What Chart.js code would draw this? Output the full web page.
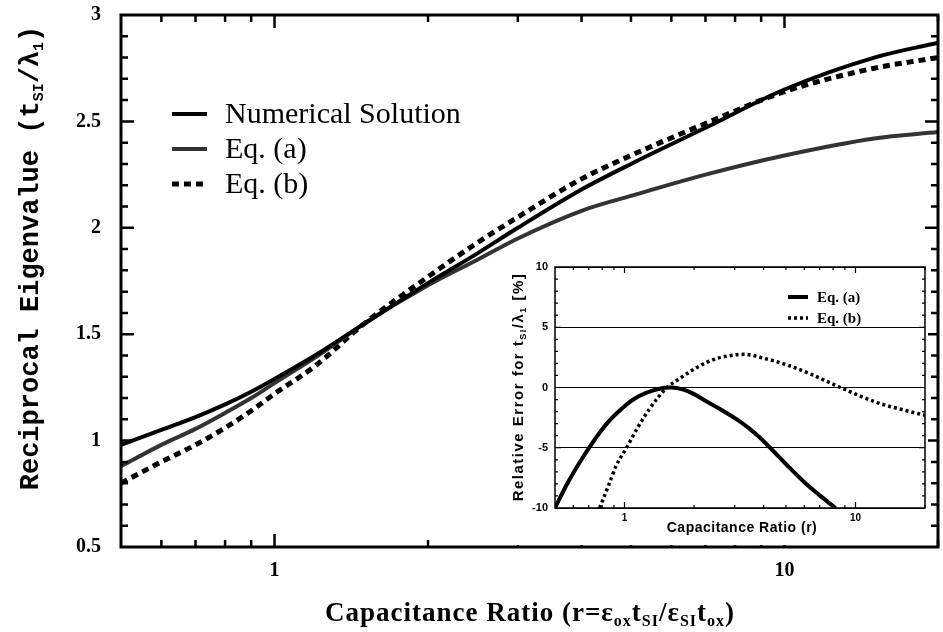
<!DOCTYPE html>
<html>
<head>
<meta charset="utf-8">
<script src="https://cdn.jsdelivr.net/npm/chart.js@4.4.1/dist/chart.umd.min.js"></script>
<style>
  html, body { margin: 0; padding: 0; background: #fff; }
  #wrap { position: relative; width: 943px; height: 632px; }
  #main { position: absolute; left: 0; top: 0; }
  #inset { position: absolute; left: 503px; top: 258px; background: #fff; }
</style>
</head>
<body>
<div id="wrap">
  <canvas id="main" width="943" height="632"></canvas>
  <canvas id="inset" width="425" height="287"></canvas>
</div>
<script>
// --- main plot data ---
const ratio     = [0.5, 0.6, 0.7, 0.8, 0.9, 1, 1.2, 1.5, 2, 2.5, 3, 4, 5, 7, 10, 15, 20];
const numerical = [0.98, 1.05, 1.11, 1.17, 1.23, 1.29, 1.40, 1.55, 1.74, 1.88, 2.00, 2.18, 2.30, 2.47, 2.65, 2.80, 2.87];
const eqA       = [0.88, 0.98, 1.055, 1.13, 1.20, 1.27, 1.39, 1.55, 1.73, 1.85, 1.95, 2.08, 2.15, 2.25, 2.34, 2.42, 2.45];
const eqB       = [0.80, 0.90, 0.98, 1.06, 1.14, 1.22, 1.35, 1.55, 1.77, 1.93, 2.05, 2.23, 2.34, 2.49, 2.64, 2.75, 2.80];

// --- inset: relative error [%] ---
const errRatioA = [0.5, 0.55, 0.6, 0.65, 0.708, 0.78, 0.86, 0.93, 1, 1.1, 1.24, 1.4, 1.59, 1.8, 2.0, 2.24, 2.6, 3.12, 3.44, 3.8, 4.27, 5, 6.04, 7, 8.2];
const errA      = [-10, -8.4, -7.1, -6.0, -4.9, -3.75, -2.75, -2.1, -1.55, -0.95, -0.45, -0.12, 0, -0.18, -0.55, -1.1, -1.8, -2.75, -3.35, -4.05, -5.0, -6.35, -7.9, -8.95, -10];
const errRatioB = [0.78, 0.85, 0.92, 1.02, 1.15, 1.28, 1.4, 1.53, 1.75, 2.1, 2.5, 3.0, 3.3, 4.06, 5.1, 6.6, 8.6, 12.4, 16, 20];
const errB      = [-10, -8.2, -6.5, -5, -3.2, -1.8, -0.8, 0, 0.8, 1.76, 2.4, 2.7, 2.75, 2.4, 1.85, 1.0, 0, -1.25, -1.85, -2.3];

// --- tick labels ---
const mainXTicks = [1, 10];
const mainYTicks = [0.5, 1, 1.5, 2, 2.5, 3];
const insetXTicks = [1, 10];
const insetYTicks = [-10, -5, 0, 5, 10];

// tick mark positions (inward marks, drawn by plugin)
const logMinor = [0.6, 0.7, 0.8, 0.9, 2, 3, 4, 5, 6, 7, 8, 9, 20];
const mainYMinor = [];
for (let v = 0.6; v < 3; v += 0.1) mainYMinor.push(+v.toFixed(1));
const insetYMinor = [];
for (let v = -9; v < 10; v += 1) insetYMinor.push(v);

const pts = (xs, ys) => xs.map((x, i) => ({ x, y: ys[i] }));

// no extra room for edge labels; chart area comes from layout padding only
function noPad(s) {
  s.paddingTop = 0; s.paddingBottom = 0; s.paddingLeft = 0; s.paddingRight = 0;
}

// draw text with subscripts; parts = [[text, isSub], ...], centered at x
function drawRich(ctx, parts, x, y, font, subFont, shift, spacing) {
  ctx.letterSpacing = (spacing || 0) + 'px';
  let w = 0;
  parts.forEach(p => { ctx.font = p[1] ? subFont : font; w += ctx.measureText(p[0]).width; });
  let cx = x - w / 2;
  ctx.textAlign = 'left';
  ctx.textBaseline = 'alphabetic';
  parts.forEach(p => {
    ctx.font = p[1] ? subFont : font;
    ctx.fillText(p[0], cx, y + (p[1] ? shift : 0));
    cx += ctx.measureText(p[0]).width;
  });
  ctx.letterSpacing = '0px';
}

// frame + inward ticks on all four sides
const frameTicks = {
  id: 'frameTicks',
  afterDatasetsDraw(chart, args, o) {
    const { ctx, chartArea: a, scales: { x, y } } = chart;
    ctx.save();
    ctx.strokeStyle = '#000';
    ctx.lineWidth = o.tickWidth;
    ctx.beginPath();
    const xt = (v, len) => {
      const px = x.getPixelForValue(v);
      ctx.moveTo(px, a.bottom); ctx.lineTo(px, a.bottom - len);
      ctx.moveTo(px, a.top); ctx.lineTo(px, a.top + len);
    };
    const yt = (v, len) => {
      const py = y.getPixelForValue(v);
      ctx.moveTo(a.left, py); ctx.lineTo(a.left + len, py);
      ctx.moveTo(a.right, py); ctx.lineTo(a.right - len, py);
    };
    o.xMinor.forEach(v => xt(v, o.minorLen));
    o.xMajor.forEach(v => xt(v, o.majorLen));
    o.yMinor.forEach(v => yt(v, o.minorLen));
    o.yMajor.forEach(v => yt(v, o.majorLen));
    ctx.stroke();
    ctx.lineWidth = o.frameWidth;
    ctx.strokeRect(a.left, a.top, a.width, a.height);
    ctx.restore();
  }
};

// legend drawn from the dataset styles
const lineLegend = {
  id: 'lineLegend',
  afterDraw(chart, args, o) {
    const ctx = chart.ctx;
    ctx.save();
    chart.data.datasets.forEach((ds, i) => {
      const y = o.y + i * o.step;
      ctx.strokeStyle = ds.borderColor;
      ctx.lineWidth = ds.borderWidth;
      ctx.setLineDash(ds.borderDash || []);
      ctx.beginPath();
      ctx.moveTo(o.x0, y); ctx.lineTo(o.x1, y);
      ctx.stroke();
      ctx.setLineDash([]);
      ctx.fillStyle = '#000';
      ctx.font = o.font;
      ctx.textAlign = 'left';
      ctx.textBaseline = 'middle';
      ctx.fillText(ds.label, o.tx, y + 1);
    });
    ctx.restore();
  }
};

const mainTitles = {
  id: 'mainTitles',
  afterDraw(chart) {
    const ctx = chart.ctx;
    ctx.save();
    ctx.fillStyle = '#000';
    ctx.translate(38, 258);
    ctx.rotate(-Math.PI / 2);
    drawRich(ctx, [['Reciprocal Eigenvalue (t', false], ['SI', true], ['/λ', false], ['1', true], [')', false]],
      0, 0, 'bold 27px "Liberation Mono"', 'bold 15px "Liberation Mono"', 5, 0);
    ctx.restore();
    ctx.save();
    ctx.fillStyle = '#000';
    drawRich(ctx, [['Capacitance Ratio (r=ε', false], ['ox', true], ['t', false], ['SI', true], ['/ε', false],
      ['SI', true], ['t', false], ['ox', true], [')', false]],
      530, 621, 'bold 27px "Liberation Serif"', 'bold 16px "Liberation Serif"', 5, 1);
    ctx.restore();
  }
};

const insetTitles = {
  id: 'insetTitles',
  afterDraw(chart) {
    const ctx = chart.ctx;
    ctx.save();
    ctx.fillStyle = '#000';
    ctx.translate(20, 129);
    ctx.rotate(-Math.PI / 2);
    drawRich(ctx, [['Relative Error for t', false], ['SI', true], ['/λ', false], ['1', true], [' [%]', false]],
      0, 0, 'bold 15px "Liberation Sans"', 'bold 9px "Liberation Sans"', 3, 1.5);
    ctx.restore();
    ctx.save();
    ctx.fillStyle = '#000';
    drawRich(ctx, [['Capacitance Ratio (r)', false]], 239, 274, 'bold 14px "Liberation Sans"', '', 0, 0.5);
    ctx.restore();
  }
};

const tickFont = { family: 'Liberation Serif', weight: 'bold', size: 20 };

new Chart(document.getElementById('main'), {
  type: 'line',
  data: {
    datasets: [
      { label: 'Numerical Solution', data: pts(ratio, numerical), borderColor: '#000', borderWidth: 4,
        pointRadius: 0, cubicInterpolationMode: 'monotone' },
      { label: 'Eq. (a)', data: pts(ratio, eqA), borderColor: '#333', borderWidth: 4,
        pointRadius: 0, cubicInterpolationMode: 'monotone' },
      { label: 'Eq. (b)', data: pts(ratio, eqB), borderColor: '#000', borderWidth: 5, borderDash: [7, 5],
        pointRadius: 0, cubicInterpolationMode: 'monotone' }
    ]
  },
  options: {
    responsive: false,
    animation: false,
    layout: { autoPadding: false, padding: { left: 0, right: 5, top: 15, bottom: 0 } },
    plugins: {
      legend: { display: false },
      tooltip: { enabled: false },
      frameTicks: { xMinor: logMinor, xMajor: mainXTicks, yMinor: mainYMinor, yMajor: [1, 1.5, 2, 2.5],
        minorLen: 7, majorLen: 13, tickWidth: 2.5, frameWidth: 3 },
      lineLegend: { x0: 172, x1: 207, tx: 225, y: 114, step: 35, font: '30px "Liberation Serif"' }
    },
    scales: {
      x: {
        type: 'logarithmic', min: 0.5, max: 20,
        afterBuildTicks: s => { s.ticks = mainXTicks.map(v => ({ value: v })); },
        afterFit: s => { s.height = 85; noPad(s); },
        grid: { display: false, drawTicks: false },
        border: { display: false },
        ticks: { color: '#000', font: tickFont, padding: 12, autoSkip: false, maxRotation: 0,
          callback: v => String(v) }
      },
      y: {
        min: 0.5, max: 3,
        afterBuildTicks: s => { s.ticks = mainYTicks.map(v => ({ value: v })); },
        afterFit: s => { s.width = 121; noPad(s); },
        grid: { display: false, drawTicks: false },
        border: { display: false },
        ticks: { color: '#000', font: tickFont, padding: 20, callback: v => String(v) }
      }
    }
  },
  plugins: [frameTicks, lineLegend, mainTitles]
});

new Chart(document.getElementById('inset'), {
  type: 'line',
  data: {
    datasets: [
      { label: 'Eq. (a)', data: pts(errRatioA, errA), borderColor: '#000', borderWidth: 4,
        pointRadius: 0, cubicInterpolationMode: 'monotone' },
      { label: 'Eq. (b)', data: pts(errRatioB, errB), borderColor: '#000', borderWidth: 3.5, borderDash: [3, 3],
        pointRadius: 0, cubicInterpolationMode: 'monotone' }
    ]
  },
  options: {
    responsive: false,
    animation: false,
    layout: { autoPadding: false, padding: { left: 0, right: 3, top: 9, bottom: 0 } },
    plugins: {
      legend: { display: false },
      tooltip: { enabled: false },
      frameTicks: { xMinor: logMinor, xMajor: insetXTicks, yMinor: insetYMinor, yMajor: [-5, 0, 5],
        minorLen: 3, majorLen: 6, tickWidth: 1.2, frameWidth: 1.5 },
      lineLegend: { x0: 285, x1: 305, tx: 314, y: 39, step: 21, font: 'bold 15px "Liberation Serif"' }
    },
    scales: {
      x: {
        type: 'logarithmic', min: 0.5, max: 20,
        afterBuildTicks: s => { s.ticks = insetXTicks.map(v => ({ value: v })); },
        afterFit: s => { s.height = 37; noPad(s); },
        grid: { display: false, drawTicks: false },
        border: { display: false },
        ticks: { color: '#000', font: { family: 'Liberation Sans', weight: 'bold', size: 10 }, padding: 4,
          autoSkip: false, maxRotation: 0, callback: v => String(v) }
      },
      y: {
        min: -10, max: 10,
        afterBuildTicks: s => { s.ticks = insetYTicks.map(v => ({ value: v })); },
        afterFit: s => { s.width = 52; noPad(s); },
        grid: { color: '#000', lineWidth: 1, drawTicks: false },
        border: { display: false },
        ticks: { color: '#000', font: { family: 'Liberation Sans', weight: 'bold', size: 11 }, padding: 7,
          callback: v => String(v) }
      }
    }
  },
  plugins: [frameTicks, lineLegend, insetTitles]
});
</script>
</body>
</html>
